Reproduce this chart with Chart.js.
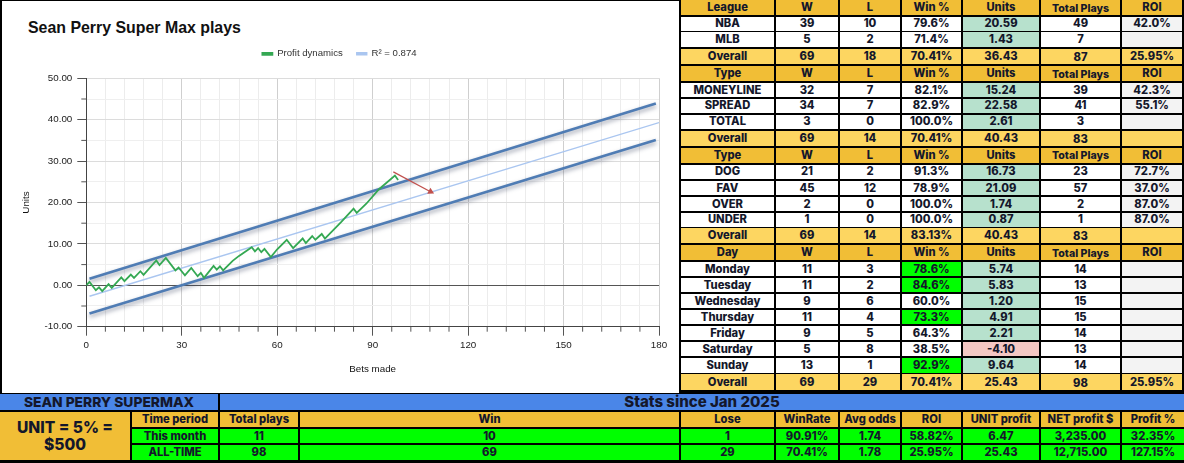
<!DOCTYPE html>
<html>
<head>
<meta charset="utf-8">
<script src="https://cdn.jsdelivr.net/npm/chart.js@4"></script>
<style>
  html, body { margin: 0; padding: 0; background: #000; }
  #page { position: relative; width: 1184px; height: 463px; overflow: hidden; background: #000; }
  #panel { position: absolute; left: 2px; top: 1px; width: 676.5px; height: 392px; background: #fff; }
  #chartTitle { position: absolute; left: 26px; top: 18px; font: bold 15.9px "Liberation Sans", Arial, sans-serif; color: #111; }
  canvas { position: absolute; left: 0; top: 0; }
  .grid { position: absolute; display: grid; font: 800 11.2px Inter, sans-serif; color: #14172b; }
  .grid div { display: flex; align-items: center; justify-content: center; white-space: nowrap; overflow: hidden; background: #fff; padding-bottom: 1px; box-sizing: border-box; }
  #stats { left: 681px; top: 0; column-gap: 2px; row-gap: 1.5px; grid-template-columns: 93px 62px 60px 59px 76px 79px 60px; }
  #summary { left: 0; top: 394.3px; column-gap: 2px; row-gap: 2px; grid-template-columns: 130px 86px 78px 379px 93px 62px 60px 59px 76px 79px 62px; grid-template-rows: 15.4px 15px 14.7px 14.6px; }
  .head { background: #f1be36 !important; }
  .total { background: #fdd661 !important; }
  .units { background: #b7e1cd !important; }
  .loss { background: #f4c7c3 !important; }
  .roi { background: #f3f3f3 !important; }
  .hot, .lime { background: #00ff00 !important; }
  .blue { background: #4a86e8 !important; }
  .small { font-size: 10.6px; padding-top: 1px; padding-bottom: 0 !important; }
  .low { padding-top: 1px; padding-bottom: 0 !important; }
  #unitCell { grid-row: 2 / span 3; background: #f1be36; font-size: 15.6px; white-space: normal; text-align: center; line-height: 17px; align-items: flex-start; padding-top: 7px; }
</style>
</head>
<body>
<div id="page">
  <div id="panel"><div id="chartTitle">Sean Perry Super Max plays</div></div>
  <canvas id="ch" width="681" height="393"></canvas>
  <div id="stats" class="grid"></div>
  <div id="summary" class="grid"></div>
</div>
<script>
// profit curve (vertices only)
const betsMade = [0, 1, 3, 4, 5, 7, 8, 11, 12, 14, 15, 17, 18, 22, 23, 25, 28, 29, 31, 33, 35, 36, 37, 40, 41, 42, 43, 46, 48, 52, 53, 54, 55, 56, 58, 60, 63, 65, 68, 69, 71, 72, 74, 75, 80, 84, 85, 88, 92, 97, 98];
const profitUnits = [0, 0.8, -1.2, -0.5, -1.4, 0.3, -0.6, 1.9, 1.0, 2.6, 1.8, 3.4, 2.5, 6.0, 4.9, 6.6, 3.6, 4.3, 2.4, 4.2, 2.2, 3.0, 1.8, 4.7, 3.8, 4.6, 3.6, 5.9, 7.1, 9.2, 8.2, 9.0, 8.0, 8.8, 6.8, 8.7, 11.0, 9.0, 11.3, 10.2, 11.9, 11.0, 12.4, 11.3, 15.2, 18.5, 17.5, 19.7, 23.2, 26.5, 25.43];

const trendBets = [1, 180];
const trendUnits = [-2.65, 39.3];
const bandBets = [1, 179];
const upperBand = [1.6, 43.9];
const lowerBand = [-6.8, 35.1];
const arrowBets = [96.5, 108.2];
const arrowUnits = [27.4, 22.6];

const xMajorTicks = [0, 30, 60, 90, 120, 150, 180];
const yMajorTicks = [-10, 0, 10, 20, 30, 40, 50];

// stat tables
const leagueRows = [
  ['League', 'W', 'L', 'Win %', 'Units', 'Total Plays', 'ROI'],
  ['NBA', '39', '10', '79.6%', '20.59', '49', '42.0%'],
  ['MLB', '5', '2', '71.4%', '1.43', '7', ''],
  ['Overall', '69', '18', '70.41%', '36.43', '87', '25.95%']
];
const typeRows = [
  ['Type', 'W', 'L', 'Win %', 'Units', 'Total Plays', 'ROI'],
  ['MONEYLINE', '32', '7', '82.1%', '15.24', '39', '42.3%'],
  ['SPREAD', '34', '7', '82.9%', '22.58', '41', '55.1%'],
  ['TOTAL', '3', '0', '100.0%', '2.61', '3', ''],
  ['Overall', '69', '14', '70.41%', '40.43', '83', '']
];
const sideRows = [
  ['Type', 'W', 'L', 'Win %', 'Units', 'Total Plays', 'ROI'],
  ['DOG', '21', '2', '91.3%', '16.73', '23', '72.7%'],
  ['FAV', '45', '12', '78.9%', '21.09', '57', '37.0%'],
  ['OVER', '2', '0', '100.0%', '1.74', '2', '87.0%'],
  ['UNDER', '1', '0', '100.0%', '0.87', '1', '87.0%'],
  ['Overall', '69', '14', '83.13%', '40.43', '83', '']
];
const dayRows = [
  ['Day', 'W', 'L', 'Win %', 'Units', 'Total Plays', 'ROI'],
  ['Monday', '11', '3', '78.6%', '5.74', '14', ''],
  ['Tuesday', '11', '2', '84.6%', '5.83', '13', ''],
  ['Wednesday', '9', '6', '60.0%', '1.20', '15', ''],
  ['Thursday', '11', '4', '73.3%', '4.91', '15', ''],
  ['Friday', '9', '5', '64.3%', '2.21', '14', ''],
  ['Saturday', '5', '8', '38.5%', '-4.10', '13', ''],
  ['Sunday', '13', '1', '92.9%', '9.64', '14', ''],
  ['Overall', '69', '29', '70.41%', '25.43', '98', '25.95%']
];
const hotDays = ['Monday', 'Tuesday', 'Thursday', 'Sunday'];
const statRowHeights = [15.2, 14.1, 14.9, 15.5, 15.8, 14.2, 14.5, 14.5, 15.5, 15.5, 14.5, 14.8, 14.2, 14.1, 15.2, 15.5, 14.5, 14.5, 14.5, 14.5, 14.5, 14.5, 14.8, 15.7];

const summaryHeader = ['Time period', 'Total plays', 'Win', 'Lose', 'WinRate', 'Avg odds', 'ROI', 'UNIT profit', 'NET profit $', 'Profit %'];
const summaryMonth = ['This month', '11', '10', '1', '90.91%', '1.74', '58.82%', '6.47', '3,235.00', '32.35%'];
const summaryAllTime = ['ALL-TIME', '98', '69', '29', '70.41%', '1.78', '25.95%', '25.43', '12,715.00', '127.15%'];

function addCell(parent, text, cls) {
  const d = document.createElement('div');
  d.textContent = text;
  if (cls) d.className = cls;
  parent.appendChild(d);
  return d;
}

const stats = document.getElementById('stats');
stats.style.gridTemplateRows = statRowHeights.map(h => h + 'px').join(' ');
[leagueRows, typeRows, sideRows, dayRows].forEach(rows => {
  rows.forEach((row, r) => {
    const isHead = r === 0;
    const isTotal = r === rows.length - 1;
    row.forEach((val, c) => {
      let cls = '';
      if (isHead) cls = 'head' + (c === 5 ? ' small' : '');
      else if (isTotal) cls = 'total' + (c === 5 ? ' low' : '');
      else if (c === 4) cls = val.startsWith('-') ? 'loss' : 'units';
      else if (c === 6) cls = 'roi';
      else if (c === 3 && hotDays.includes(row[0])) cls = 'hot';
      addCell(stats, val, cls);
    });
  });
});

const summary = document.getElementById('summary');
const sean = addCell(summary, 'SEAN PERRY SUPERMAX', 'blue');
sean.style.gridColumn = '1 / span 2';
sean.style.fontSize = '13.8px';
const since = addCell(summary, 'Stats since Jan 2025', 'blue');
since.style.gridColumn = '3 / span 9';
since.style.fontSize = '15px';
const unitCell = addCell(summary, 'UNIT = 5% = $500');
unitCell.id = 'unitCell';
summaryHeader.forEach(t => addCell(summary, t, 'head'));
summaryMonth.forEach(t => addCell(summary, t, 'lime'));
summaryAllTime.forEach(t => addCell(summary, t, 'lime'));

// soft shadow under the channel lines
const bandShadow = {
  id: 'bandShadow',
  beforeDatasetDraw(chart, args) {
    if (!chart.data.datasets[args.index].shadowed) return;
    const ctx = chart.ctx;
    ctx.save();
    ctx.shadowColor = 'rgba(50,60,90,0.5)';
    ctx.shadowBlur = 4;
    ctx.shadowOffsetY = 2.5;
  },
  afterDatasetDraw(chart, args) {
    if (chart.data.datasets[args.index].shadowed) chart.ctx.restore();
  }
};

// short ticks between the labelled ones
const minorTicks = {
  id: 'minorTicks',
  afterDraw(chart) {
    const ctx = chart.ctx, x = chart.scales.x, y = chart.scales.y;
    ctx.save();
    ctx.strokeStyle = '#555';
    ctx.lineWidth = 1;
    ctx.beginPath();
    x.ticks.forEach(t => {
      if (xMajorTicks.includes(t.value)) return;
      const px = x.getPixelForValue(t.value);
      ctx.moveTo(px, y.bottom);
      ctx.lineTo(px, y.bottom + 5);
    });
    y.ticks.forEach(t => {
      if (yMajorTicks.includes(t.value)) return;
      const py = y.getPixelForValue(t.value);
      ctx.moveTo(x.left, py);
      ctx.lineTo(x.left - 5, py);
    });
    ctx.stroke();
    ctx.restore();
  }
};

// more room under the legend without spreading its items apart
const legendGap = {
  id: 'legendGap',
  beforeInit(chart) {
    const fit = chart.legend.fit;
    chart.legend.fit = function () {
      fit.call(this);
      this.height += 9.7;
    };
  }
};

const tickFont = { family: '"Liberation Sans", Arial, sans-serif', size: 9.8 };

new Chart(document.getElementById('ch').getContext('2d'), {
  type: 'line',
  plugins: [bandShadow, minorTicks, legendGap],
  data: {
    datasets: [
      { label: 'Profit dynamics', data: betsMade.map((b, i) => ({ x: b, y: profitUnits[i] })), borderColor: '#34a853', backgroundColor: '#34a853', borderWidth: 1.8, pointRadius: 0 },
      { label: 'arrow', data: arrowBets.map((b, i) => ({ x: b, y: arrowUnits[i] })), borderColor: '#c0504d', backgroundColor: '#c0504d', borderWidth: 1.2, pointRadius: [0, 4], pointStyle: 'triangle', pointRotation: 118, pointBorderWidth: 0 },
      { label: 'R² = 0.874', data: trendBets.map((b, i) => ({ x: b, y: trendUnits[i] })), borderColor: '#aac6f0', backgroundColor: '#aac6f0', borderWidth: 1.4, pointRadius: 0 },
      { label: 'upper', data: bandBets.map((b, i) => ({ x: b, y: upperBand[i] })), borderColor: '#4f7cb4', borderWidth: 2.7, pointRadius: 0, shadowed: true },
      { label: 'lower', data: bandBets.map((b, i) => ({ x: b, y: lowerBand[i] })), borderColor: '#4f7cb4', borderWidth: 2.7, pointRadius: 0, shadowed: true }
    ]
  },
  options: {
    responsive: false,
    animation: { duration: 0 },
    events: [],
    layout: { padding: { left: 20, top: 35, bottom: 16, right: 22 } },
    plugins: {
      title: { display: false },
      tooltip: { enabled: false },
      legend: {
        position: 'top',
        labels: {
          boxWidth: 10,
          boxHeight: 2,
          padding: 14,
          color: '#333',
          font: { family: tickFont.family, size: 9.6 },
          filter: item => item.text === 'Profit dynamics' || item.text.startsWith('R²')
        }
      }
    },
    scales: {
      x: {
        type: 'linear',
        min: 0,
        max: 180,
        afterFit(scale) { scale.height = 50.3; },
        border: { color: '#444', width: 1 },
        grid: {
          color: ctx => xMajorTicks.includes(ctx.tick.value) ? '#cfcfcf' : '#ececec',
          tickColor: ctx => xMajorTicks.includes(ctx.tick.value) ? '#555' : 'transparent',
          tickLength: 9
        },
        ticks: {
          stepSize: 6,
          autoSkip: false,
          maxRotation: 0,
          padding: 4,
          color: '#222',
          font: tickFont,
          callback: v => xMajorTicks.includes(v) ? String(v) : ''
        },
        title: { display: true, text: 'Bets made', color: '#111', font: tickFont, padding: { top: 0, bottom: 2 } }
      },
      y: {
        min: -10,
        max: 50,
        afterFit(scale) { scale.width = 66.3; },
        border: { color: '#444', width: 1 },
        grid: {
          color: ctx => ctx.tick.value === 0 ? '#555' : (yMajorTicks.includes(ctx.tick.value) ? '#dcdcdc' : '#efefef'),
          tickColor: ctx => yMajorTicks.includes(ctx.tick.value) ? '#555' : 'transparent',
          tickLength: 9
        },
        ticks: {
          stepSize: 5,
          autoSkip: false,
          padding: 5,
          color: '#222',
          font: tickFont,
          callback: v => yMajorTicks.includes(v) ? v.toFixed(2) : ''
        },
        title: { display: true, text: 'Units', color: '#111', font: tickFont, padding: { top: 0, bottom: 0 } }
      }
    }
  }
});
</script>
</body>
</html>
